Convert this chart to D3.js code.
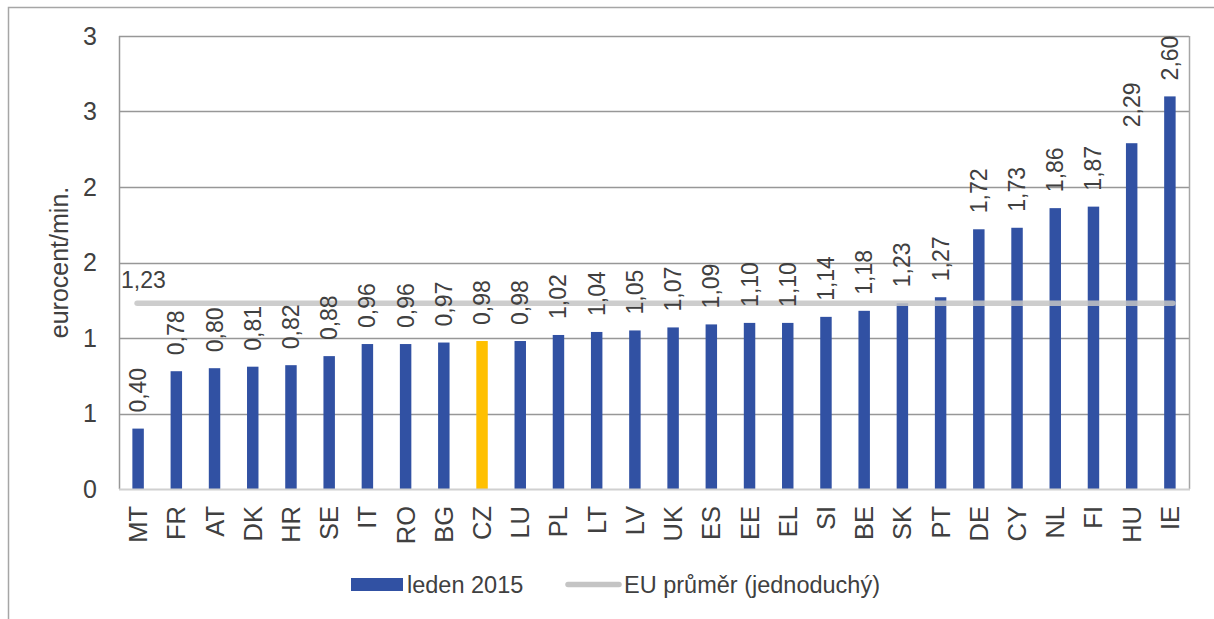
<!doctype html>
<html>
  <head>
    <meta charset="utf-8">
    <title>eurocent/min.</title>
    <style>
      body { margin: 0; background: #fff; }
      svg { display: block; }
      text { font-family: "Liberation Sans", Arial, sans-serif; fill: #404040; }
    </style>
    <script src="https://cdn.jsdelivr.net/npm/d3@7"></script>
  </head>
  <body>

  <svg width="1214" height="619"></svg>

  <script>

  var countries = ['MT', 'FR', 'AT', 'DK', 'HR', 'SE', 'IT', 'RO', 'BG', 'CZ', 'LU', 'PL', 'LT', 'LV',
    'UK', 'ES', 'EE', 'EL', 'SI', 'BE', 'SK', 'PT', 'DE', 'CY', 'NL', 'FI', 'HU', 'IE'];
  var values = [0.40, 0.78, 0.80, 0.81, 0.82, 0.88, 0.96, 0.96, 0.97, 0.98, 0.98, 1.02, 1.04, 1.05,
    1.07, 1.09, 1.10, 1.10, 1.14, 1.18, 1.23, 1.27, 1.72, 1.73, 1.86, 1.87, 2.29, 2.60];
  var euAverage = 1.23;
  var highlight = 'CZ';
  var yTicks = [0, 0.5, 1, 1.5, 2, 2.5, 3];
  var yTickLabels = ['0', '1', '1', '2', '2', '3', '3'];
  var seriesNames = ['leden 2015', 'EU průměr (jednoduchý)'];
  var yTitle = 'eurocent/min.';

  var $svg = d3.select('svg');
  var plot = { left: 119, right: 1189, top: 36, bottom: 489 };
  var barBlue = '#3151a3';
  var czColor = '#ffc000';
  var comma = function(v) { return d3.format('.2f')(v).replace('.', ','); };

  var x = d3.scaleBand()
    .domain(countries)
    .range([plot.left, plot.right])
    .paddingInner(0.7)
    .paddingOuter(0.35);

  var y = d3.scaleLinear()
    .domain([0, 3])
    .range([plot.bottom, plot.top]);

  // outer frame of the picture
  $svg.append('path')
    .attr('d', 'M8.5,619 V7.5 H1214')
    .attr('fill', 'none')
    .attr('stroke', '#a6a6a6')
    .attr('stroke-width', 1.5);

  // gridlines
  $svg.append('g')
    .selectAll('line')
    .data(yTicks.slice(1))
    .enter().append('line')
    .attr('x1', plot.left)
    .attr('x2', plot.right)
    .attr('y1', function(d){ return Math.round(y(d)) + 0.5; })
    .attr('y2', function(d){ return Math.round(y(d)) + 0.5; })
    .attr('stroke', '#979797')
    .attr('stroke-width', 1.5);

  // plot side borders
  $svg.append('line')
    .attr('x1', plot.left + 0.5).attr('x2', plot.left + 0.5)
    .attr('y1', plot.top).attr('y2', plot.bottom)
    .attr('stroke', '#979797').attr('stroke-width', 1.5);
  $svg.append('line')
    .attr('x1', plot.right + 0.5).attr('x2', plot.right + 0.5)
    .attr('y1', plot.top).attr('y2', plot.bottom)
    .attr('stroke', '#a6a6a6').attr('stroke-width', 1.5);

  // y axis labels
  var yAxis = d3.axisLeft(y)
    .tickValues(yTicks)
    .tickSize(0)
    .tickPadding(22)
    .tickFormat(function(d, i){ return yTickLabels[i]; });

  var $yAxis = $svg.append('g')
    .attr('transform', 'translate(' + plot.left + ',0)')
    .call(yAxis);
  $yAxis.select('.domain').remove();
  $yAxis.selectAll('text')
    .style('font-family', '"Liberation Sans", Arial, sans-serif')
    .style('font-size', '25px')
    .attr('fill', '#404040');

  $svg.append('text')
    .attr('transform', 'translate(68,' + ((plot.top + plot.bottom) / 2) + ') rotate(-90)')
    .attr('text-anchor', 'middle')
    .style('font-size', '25px')
    .text(yTitle);

  // bars
  $svg.append('g')
    .selectAll('rect')
    .data(values)
    .enter().append('rect')
    .attr('x', function(d, i){ return x(countries[i]); })
    .attr('width', x.bandwidth())
    .attr('y', function(d){ return y(d); })
    .attr('height', function(d){ return y(0) - y(d); })
    .attr('fill', function(d, i){ return countries[i] === highlight ? czColor : barBlue; });

  // bottom axis line
  $svg.append('line')
    .attr('x1', plot.left).attr('x2', plot.right + 1)
    .attr('y1', plot.bottom + 0.5).attr('y2', plot.bottom + 0.5)
    .attr('stroke', '#d0d0d0').attr('stroke-width', 2);

  // EU average line
  var first = countries[0], last = countries[countries.length - 1];
  $svg.append('line')
    .attr('x1', x(first) + x.bandwidth() / 2 - 1)
    .attr('x2', x(last) + x.bandwidth() / 2 + 3)
    .attr('y1', y(euAverage))
    .attr('y2', y(euAverage))
    .attr('stroke', '#c4c4c4')
    .attr('stroke-opacity', 0.85)
    .attr('stroke-width', 5.5)
    .attr('stroke-linecap', 'round');

  $svg.append('text')
    .attr('x', plot.left + 2)
    .attr('y', y(euAverage) - 15)
    .style('font-size', '23px')
    .text(comma(euAverage));

  // value labels
  $svg.append('g')
    .selectAll('text')
    .data(values)
    .enter().append('text')
    .attr('transform', function(d, i){
      var cx = x(countries[i]) + x.bandwidth() / 2 + 8;
      return 'translate(' + cx + ',' + (y(d) - 16) + ') rotate(-90)';
    })
    .attr('text-anchor', 'start')
    .style('font-size', '23px')
    .text(function(d){ return comma(d); });

  // category labels
  $svg.append('g')
    .selectAll('text')
    .data(countries)
    .enter().append('text')
    .attr('transform', function(d){
      var cx = x(d) + x.bandwidth() / 2 + 9;
      return 'translate(' + cx + ',506) rotate(-90)';
    })
    .attr('text-anchor', 'end')
    .style('font-size', '25.5px')
    .text(function(d){ return d; });

  // legend
  var $legend = $svg.append('g');
  $legend.append('rect')
    .attr('x', 351).attr('y', 578)
    .attr('width', 52).attr('height', 13)
    .attr('fill', barBlue);
  $legend.append('text')
    .attr('x', 407).attr('y', 593)
    .style('font-size', '23.5px')
    .text(seriesNames[0]);
  $legend.append('line')
    .attr('x1', 568).attr('x2', 619)
    .attr('y1', 584.5).attr('y2', 584.5)
    .attr('stroke', '#c4c4c4')
    .attr('stroke-width', 5.5)
    .attr('stroke-linecap', 'round');
  $legend.append('text')
    .attr('x', 624).attr('y', 593)
    .style('font-size', '23.5px')
    .text(seriesNames[1]);

  </script>

  </body>
</html>
